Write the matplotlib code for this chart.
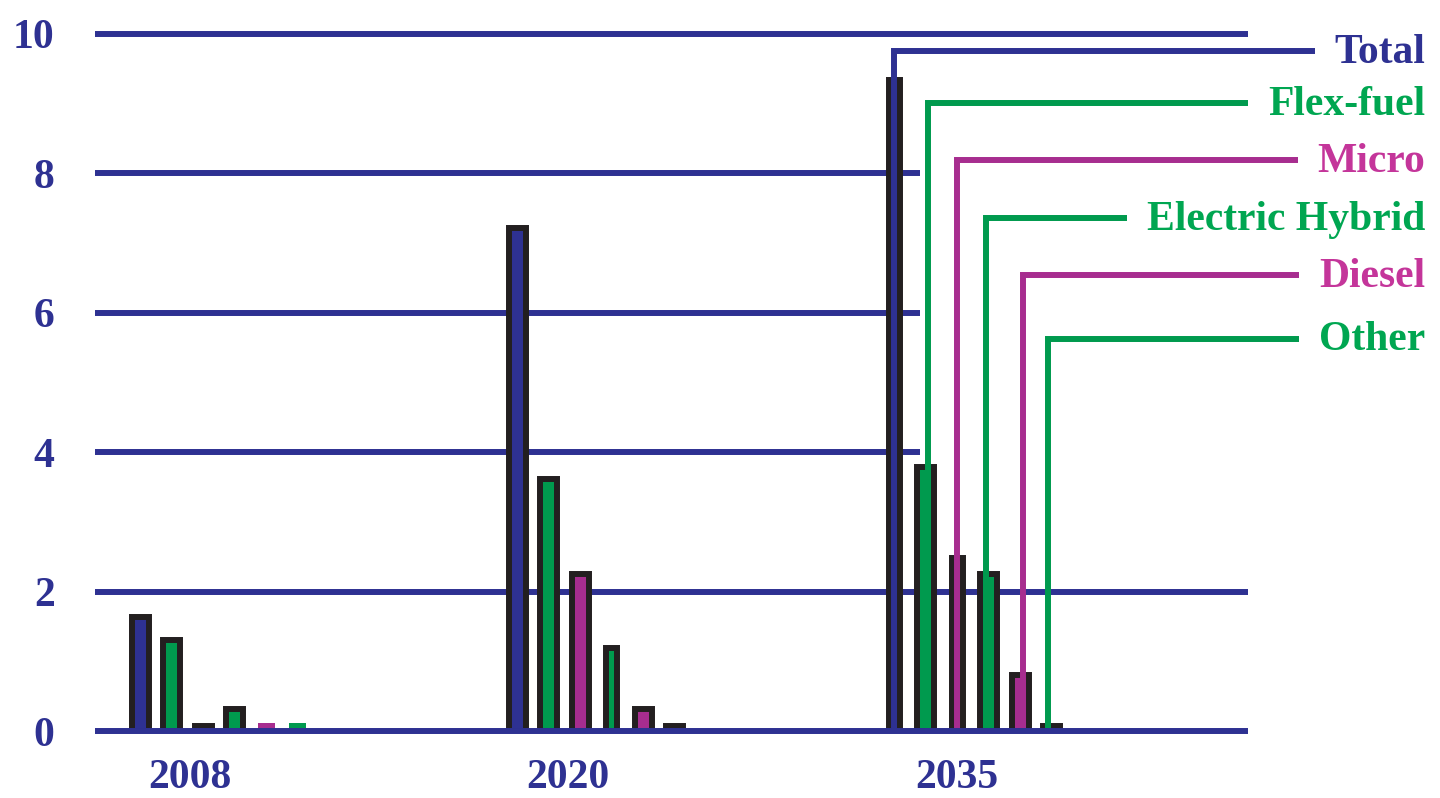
import matplotlib.pyplot as plt

# vehicle sales by technology (millions)
years = ['2008', '2020', '2035']
series = ['Total', 'Flex-fuel', 'Micro', 'Electric Hybrid', 'Diesel', 'Other']
total = [1.64, 7.21, 9.34]
flex_fuel = [1.31, 3.62, 3.79]
micro = [0.07, 2.25, 2.48]
electric_hybrid = [0.32, 1.19, 2.25]
diesel = [0.11, 0.31, 0.80]
other = [0.11, 0.07, 0.07]
y_ticks = [0, 2, 4, 6, 8, 10]

BLUE = '#2E3192'
GREEN = '#009A4E'
MAGENTA = '#A72D8F'
PINK = '#C4359A'
TEXT_GREEN = '#00A651'
EDGE = '#231F20'

bar_colors = [BLUE, GREEN, MAGENTA, GREEN, MAGENTA, GREEN]
text_colors = [BLUE, TEXT_GREEN, PINK, TEXT_GREEN, PINK, TEXT_GREEN]
font = dict(family='Liberation Serif', fontweight='bold', fontsize=30)

fig = plt.figure(figsize=(14.4, 7.98), dpi=100)
ax = fig.add_axes([95 / 1440, 67 / 798, 1153 / 1440, 697 / 798])
ax.set_xlim(-0.3289, 2.7294)
ax.set_ylim(0, 10)
for s in ax.spines.values():
    s.set_visible(False)

lw = 4.3
# grid lines: the middle ones stop before the labelled callouts
for y in y_ticks:
    right = 2.7294 if y in (0, 2, 10) else 1.859
    ax.plot([-0.3289, right], [y, y], color=BLUE, lw=lw, solid_capstyle='butt',
            clip_on=False, zorder=4 if y == 0 else 1)

step = 0.0838
wide, narrow = 0.0451, 0.0292
narrow_bars = {(1, 3), (2, 0), (2, 2)}
no_edge = {(0, 4), (0, 5)}
all_values = [total, flex_fuel, micro, electric_hybrid, diesel, other]
for i, vals in enumerate(all_values):
    for g, v in enumerate(vals):
        w = narrow if (g, i) in narrow_bars else wide
        edge = 0 if (g, i) in no_edge else lw
        ax.bar(g + (i - 2.5) * step, v, width=w, color=bar_colors[i],
               edgecolor=EDGE, linewidth=edge, zorder=2)

# callout lines from the 2035 bars to the series names
leader_y = [9.76, 9.01, 8.19, 7.36, 6.54, 5.63]
leader_shift = [0, 2.5, 0, -2.5, 2.5, -3.5]  # pixels off the bar centre
texts = []
for i, name in enumerate(series):
    t = ax.text(3.2, leader_y[i] - 0.17, name, ha='right', va='baseline',
                color=text_colors[i], clip_on=False, **font)
    texts.append(t)

fig.canvas.draw()
inv = ax.transData.inverted()
for i, t in enumerate(texts):
    bb = t.get_window_extent()
    x_end = inv.transform((bb.x0 - 20, 0))[0]
    x = 2 + (i - 2.5) * step + leader_shift[i] / 377
    ax.plot([x, x, x_end], [0, leader_y[i], leader_y[i]], color=bar_colors[i],
            lw=lw, solid_joinstyle='miter', solid_capstyle='butt',
            clip_on=False, zorder=3)

ax.set_yticks(y_ticks)
ax.set_yticklabels([str(v) for v in y_ticks], color=BLUE, **font)
ax.set_xticks([g + off for g, off in zip(range(3), [-0.077, -0.074, -0.042])])
ax.set_xticklabels(years, color=BLUE, **font)
ax.tick_params(axis='y', length=0, pad=29)
ax.tick_params(axis='x', length=0, pad=20)

fig.savefig('out.png', dpi=100)
